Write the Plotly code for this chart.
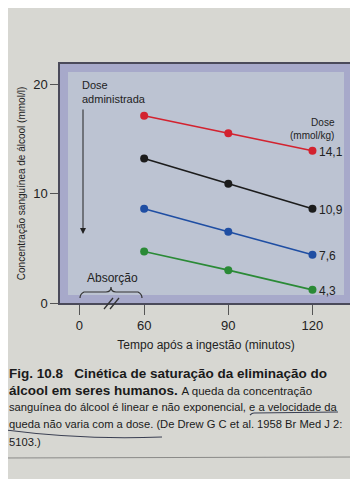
import plotly.graph_objects as go

# ---- data ----
tempo = [60, 90, 120]
dose_labels = ["14,1", "10,9", "7,6", "4,3"]
conc_14_1 = [17.1, 15.5, 13.9]
conc_10_9 = [13.2, 10.9, 8.6]
conc_7_6 = [8.6, 6.5, 4.4]
conc_4_3 = [4.7, 3.0, 1.2]
series = [conc_14_1, conc_10_9, conc_7_6, conc_4_3]
colors = ["#d3222f", "#1c1c1c", "#1f4ea3", "#2a8a36"]
x_tick_text = ["0", "60", "90", "120"]

PAGE = 8                      # default body margin of the html page
W, H = 358 - PAGE, 479 - PAGE
L, R, T, B = 60, 352, 64, 303  # plot area in page pixels


def px(x):
    return (x - L) / (R - L)


def py(y):
    return (B - y) / (B - T)


SANS = "Liberation Sans, Arial, sans-serif"

fig = go.Figure()
for vals, c, lab in zip(series, colors, dose_labels):
    fig.add_trace(go.Scatter(
        x=tempo, y=vals, mode="lines+markers",
        line=dict(color=c, width=1.6),
        marker=dict(color=c, size=8),
        showlegend=False, cliponaxis=False,
    ))
    fig.add_annotation(x=tempo[-1], y=vals[-1], text=lab, showarrow=False,
                       xanchor="left", xshift=5, yshift=-1,
                       font=dict(family=SANS, size=12, color="#222"))

shapes = []
# inner lighter panel
shapes.append(dict(type="rect", xref="paper", yref="paper", layer="below",
                   x0=px(L + 8), x1=px(R - 8), y0=py(B - 8), y1=py(T + 8),
                   fillcolor="#bcc3d2", line=dict(width=0)))
# break marks on the x axis
for x0 in (104, 110):
    shapes.append(dict(type="line", xref="paper", yref="paper",
                       x0=px(x0), y0=py(309), x1=px(x0 + 9), y1=py(298),
                       line=dict(color="#333", width=1.3)))
# Absorção brace
pts = [(80, 298), (80, 294), (84, 292), (106, 292), (111, 292), (111, 287),
       (111, 292), (116, 292), (138, 292), (142, 294), (142, 298)]
p = [(px(a), py(b)) for a, b in pts]
path = (f"M {p[0][0]},{p[0][1]} Q {p[1][0]},{p[1][1]} {p[2][0]},{p[2][1]} "
        f"L {p[3][0]},{p[3][1]} Q {p[4][0]},{p[4][1]} {p[5][0]},{p[5][1]} "
        f"Q {p[6][0]},{p[6][1]} {p[7][0]},{p[7][1]} L {p[8][0]},{p[8][1]} "
        f"Q {p[9][0]},{p[9][1]} {p[10][0]},{p[10][1]}")
shapes.append(dict(type="path", xref="paper", yref="paper", path=path,
                   line=dict(color="#333", width=1.2)))
# handwritten underlines
shapes.append(dict(type="path", xref="paper", yref="paper",
                   path=f"M {px(250)},{py(415)} Q {px(252)},{py(413)} {px(254)},{py(413)} "
                        f"L {px(338)},{py(412)}",
                   line=dict(color="#3a3f52", width=1.1)))
shapes.append(dict(type="path", xref="paper", yref="paper",
                   path=f"M {px(6)},{py(430)} Q {px(80)},{py(440)} {px(162)},{py(437)}",
                   line=dict(color="#3a3f52", width=1.1)))
# page rule
shapes.append(dict(type="line", xref="paper", yref="paper",
                   x0=px(0), y0=py(458), x1=px(358), y1=py(457),
                   line=dict(color="#8a8a88", width=1)))

annots = [
    dict(x=px(80), y=py(77), xanchor="left", yanchor="top", align="left",
         text="Dose<br>administrada", font=dict(family=SANS, size=11, color="#222")),
    dict(x=px(337), y=py(115), xanchor="right", yanchor="top", align="right",
         text="Dose<br>(mmol/kg)", font=dict(family=SANS, size=10, color="#222")),
    dict(x=px(112), y=py(278), xanchor="center", yanchor="middle",
         text="Absorção", font=dict(family=SANS, size=12, color="#222")),
]
for a in annots:
    a.update(xref="paper", yref="paper", showarrow=False)
    fig.add_annotation(**a)
# dose arrow
fig.add_annotation(xref="paper", yref="paper", x=px(83), y=py(234),
                   ax=0, ay=-126, axref="pixel", ayref="pixel",
                   showarrow=True, arrowhead=2, arrowsize=1.2, arrowwidth=1,
                   arrowcolor="#222", text="")

# caption
cap_lines = [
    (364, "<b>Fig. 10.8   Cinética de saturação da eliminação do</b>", 13.5),
    (381, "<b>álcool em seres humanos.</b> "
          "<span style=\"font-size:11.5px\">A queda da concentração</span>", 13.5),
    (399, "sanguínea do álcool é linear e não exponencial, e a velocidade da", 11.2),
    (416, "queda não varia com a dose. (De Drew G C et al. 1958 Br Med J 2:", 11.2),
    (434, "5103.)", 11.2),
]
for ytop, txt, sz in cap_lines:
    fig.add_annotation(xref="paper", yref="paper", x=px(7), y=py(ytop),
                       xanchor="left", yanchor="top", align="left", showarrow=False,
                       text=txt, font=dict(family=SANS, size=sz, color="#1a1a1a"))

y_per_px = 20 / (303 - 84)
x_per_px = 30 / (313 - 230)
x_lo = 60 - (143 - L) * x_per_px
x_hi = 120 + (R - 313) * x_per_px
x_zero = 60 - (143 - 79) * x_per_px

fig.update_layout(
    width=W, height=H,
    margin=dict(l=L - PAGE, r=358 - R, t=T - PAGE, b=479 - B, pad=0),
    paper_bgcolor="#d7d7d2",
    plot_bgcolor="#a7a9ca",
    shapes=shapes,
    font=dict(family=SANS, color="#222"),
    xaxis=dict(range=[x_lo, x_hi], tickvals=[x_zero, 60, 90, 120], ticktext=x_tick_text,
               automargin=False,
               showgrid=False, zeroline=False, ticks="outside", ticklen=10,
               tickcolor="#555", showline=True, linecolor="#4a4a5a", linewidth=1.5,
               mirror=True, tickfont=dict(size=13, family=SANS),
               title=dict(text="Tempo após a ingestão (minutos)",
                          font=dict(size=12, family=SANS), standoff=8)),
    yaxis=dict(range=[0, (B - T) * y_per_px], tickvals=[0, 10, 20],
               automargin=False,
               showgrid=False, zeroline=False, ticks="outside", ticklen=8,
               tickcolor="#555", showline=True, linecolor="#4a4a5a", linewidth=1.5,
               mirror=True, tickfont=dict(size=13, family=SANS),
               title=dict(text="Concentração sanguínea de álcool (mmol/l)",
                          font=dict(size=10, family=SANS), standoff=6)),
)

fig.write_html("out.html")
